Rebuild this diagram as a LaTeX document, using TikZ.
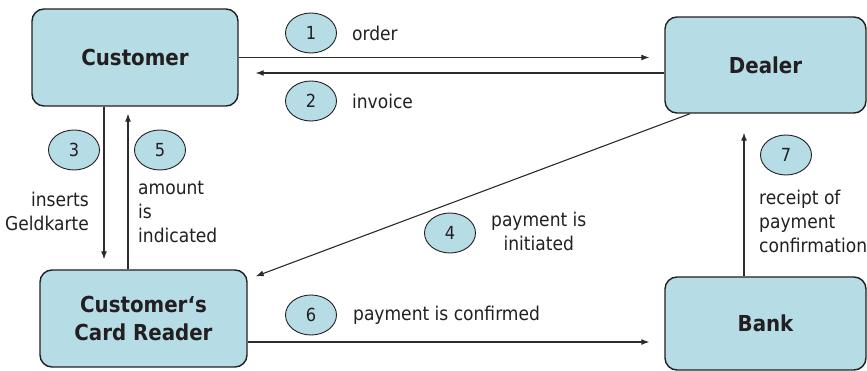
\documentclass[tikz,border=0pt]{standalone}
\usepackage{fontspec}
\setmainfont{DejaVu Sans Condensed}
\usepackage{tikz}
\usetikzlibrary{positioning,arrows.meta,shapes.geometric}
\definecolor{boxfill}{HTML}{B6DCE6}
\definecolor{ink}{HTML}{231F20}
\definecolor{wire}{HTML}{2B2B2B}

\begin{document}
\begin{tikzpicture}[x=1pt, y=-1pt,
  party/.style={draw=ink, line width=1.4pt, fill=boxfill, rounded corners=12pt, align=center,
    font=\fontsize{22}{28}\selectfont\bfseries, text=ink, inner sep=0},
  num/.style={ellipse, draw=ink, line width=0.9pt, fill=boxfill, minimum width=51pt,
    minimum height=40pt, inner sep=0, font=\fontsize{18}{18}\selectfont, text=ink},
  lab/.style={font=\fontsize{19}{24}\selectfont, text=ink, inner sep=0},
  msg/.style={draw=wire, line width=1.1pt, -{Latex[length=8pt,width=6pt]}}]
\useasboundingbox (0,0) rectangle (867,371);

% the four parties
\node[party, minimum width=206pt, minimum height=97pt] (customer) at (135,57.5) {Customer};
\node[party, minimum width=201pt, minimum height=96pt] (dealer) at (765.5,65) {Dealer};
\node[party, minimum width=207pt, minimum height=97pt] (reader) at (143.5,318.5) {Customer‘s\\Card Reader};
\node[party, minimum width=201pt, minimum height=93pt] (bank) at (765.5,323.5) {Bank};

% messages
\draw[msg, shorten >=15pt] (customer.east) -- (customer.east -| dealer.west);
\coordinate (inv) at ([yshift=-8pt]dealer.west);
\draw[msg, shorten >=17pt] (inv) -- (inv -| customer.east);
\coordinate (ins) at ([xshift=-31pt]customer.south);
\draw[msg, shorten >=10pt] (ins) -- (ins |- reader.north);
\coordinate (amt) at ([xshift=-15.5pt]reader.north);
\draw[msg, shorten >=7pt] (amt) -- (amt |- customer.south);
\coordinate (ini) at ([xshift=-75.5pt]dealer.south);
\coordinate (rne) at ([shift={(8pt,-7pt)}]reader.north east);
\draw[msg] (ini) -- (rne);
\coordinate (cnf) at ([yshift=-23.5pt]reader.east);
\draw[msg, shorten >=15pt] (cnf) -- (cnf -| bank.west);
\coordinate (rcp) at ([xshift=-21.5pt]bank.north);
\draw[msg, shorten >=19pt] (rcp) -- (rcp |- dealer.south);

% step numbers and their labels
\node[num] (n1) at (311,33) {1};
\node[lab, right=15pt of n1] (order) {order};
\node[num] (n2) at (311,101) {2};
\node[lab, right=15pt of n2] (invoice) {invoice};
\node[num] (n3) at (74,150) {3};
\node[lab, align=right, anchor=east] (inserts) at (89,211) {inserts\\Geldkarte};
\node[num] (n5) at (160,150) {5};
\node[lab, align=left, anchor=west] (amount) at (138,212) {amount\\is\\indicated};
\node[num] (n4) at (450,233) {4};
\node[lab, align=center, right=15pt of n4, yshift=2pt] (initiated) {payment is\\initiated};
\node[num] (n6) at (311,315) {6};
\node[lab, right=16pt of n6] (confirmed) {payment is confirmed};
\node[num] (n7) at (786,155) {7};
\node[lab, align=left, anchor=west] (receipt) at (759,221) {receipt of\\payment\\confirmation};
\end{tikzpicture}
\end{document}
